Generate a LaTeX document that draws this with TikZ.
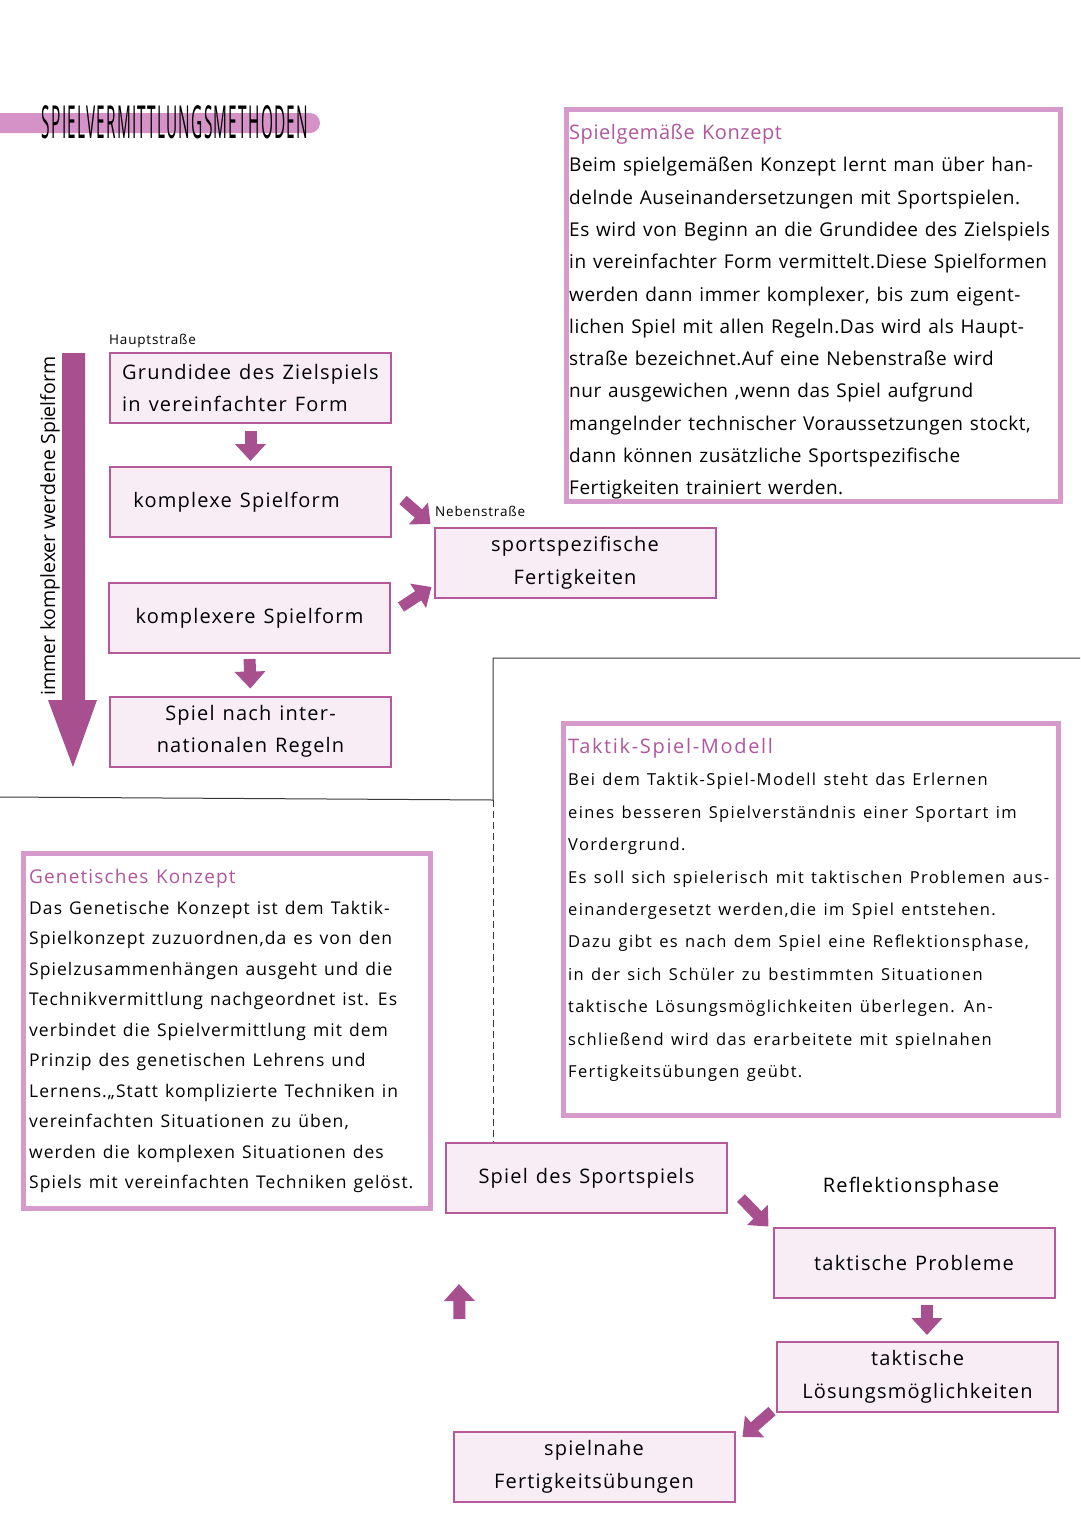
\documentclass[tikz,border=0pt]{standalone}
\usepackage{fontspec}
\usepackage{graphicx}
\setmainfont{Open Sans}[LetterSpace=6,WordSpace=1.25]
\newfontfamily\widefont{Open Sans}[LetterSpace=8.3,WordSpace=1.3]
\newfontfamily\spfont{Open Sans}[LetterSpace=2.8,WordSpace=1.25]
\newfontfamily\plainfont{Open Sans}
\newfontfamily\titlefont{Open Sans}[LetterSpace=8]
\usetikzlibrary{arrows.meta,calc}
\definecolor{flowfill}{HTML}{F8EDF5}
\definecolor{flowdraw}{HTML}{B45A9B}
\definecolor{arrowc}{HTML}{A8508F}
\definecolor{framec}{HTML}{D69BCB}
\definecolor{headc}{HTML}{B0579E}
\definecolor{barc}{HTML}{D592C7}
\definecolor{linec}{HTML}{3A3A3A}
\tikzset{
 flow/.style={draw=flowdraw, fill=flowfill, line width=2pt, minimum width=281pt, minimum height=70pt, align=center, font=\fontsize{20}{32.5}\selectfont, inner sep=0pt},
 blk/.style={draw=arrowc, line width=12pt, -{Triangle[length=17pt,width=30pt]}},
 diag/.style={draw=arrowc, line width=11pt, -{Triangle[length=16pt,width=28pt]}},
 panel/.style={draw=framec, line width=5pt, fill=white, anchor=north west, inner sep=0pt},
 paneltext/.style={anchor=north west, align=left, inner sep=0pt},
 smalllbl/.style={font=\fontsize{13.5}{15}\selectfont, anchor=base west, inner sep=0pt},
 sepline/.style={draw=linec, line width=1pt},
}
\begin{document}
\begin{tikzpicture}[x=1pt,y=-1pt]
\useasboundingbox (0,0) rectangle (1080,1527);
\fill[white] (0,0) rectangle (1080,1527);

% title
\fill[barc, rounded corners=10pt] (-20,113) rectangle (320,133);
\node[inner sep=0pt] (title) at (175,122) {\resizebox{266pt}{33pt}{\titlefont SPIELVERMITTLUNGSMETHODEN}};

% separator lines
\draw[sepline] (0,797) -- (493,800) -- (493,658) -- (1080,658);
\draw[sepline, dash pattern=on 7pt off 4pt] (493,800) -- (493,1142);

% big vertical arrow
\fill[arrowc] (62,353) -- (85,353) -- (85,700) -- (97,700) -- (73,767) -- (48,700) -- (62,700) -- cycle;
\node[rotate=90, font=\plainfont\fontsize{19.5}{20}\selectfont, inner sep=0pt] (rot) at (50,526) {immer komplexer werdene Spielform};

% main road
\node[smalllbl] (haupt) at (109,344) {Hauptstraße};
\node[flow, align=left] (b1) at (250.5,388) {Grundidee des Zielspiels\\in vereinfachter Form};
\node[flow] (b2) at (250.5,502) {\hspace*{-28pt}komplexe Spielform};
\node[flow] (b3) at (249.5,618) {komplexere Spielform};
\node[flow] (b4) at (250.5,731.5) {Spiel nach inter-\\nationalen Regeln};

\node[smalllbl] (neben) at (435,516) {Nebenstraße};
\node[flow] (b5) at (575,562.5) {sportspezifische\\Fertigkeiten};

\draw[blk, shorten <=7pt, shorten >=5pt] (b1.south) -- (b2.north);
\draw[blk, shorten <=5pt, shorten >=7pt] (b3.south) -- (b4.north);
\draw[diag] ($(b2.east)+(11,-2)$) -- ($(b5.west)+(-3,-38.5)$);
\draw[diag] ($(b3.east)+(10,-11)$) -- ($(b5.west)+(-2,24.5)$);

% Spielgemaesse Konzept
\node[panel, minimum width=494pt, minimum height=392pt] (p1) at (564,107) {};
\node[paneltext, font=\spfont\fontsize{19}{32.3}\selectfont] (p1t) at (569,124) {%
\textcolor{headc}{\fontsize{20}{32.3}\selectfont Spielgemäße Konzept}\\
Beim spielgemäßen Konzept lernt man über han-\\
delnde Auseinandersetzungen mit Sportspielen.\\
Es wird von Beginn an die Grundidee des Zielspiels\\
in vereinfachter Form vermittelt.Diese Spielformen\\
werden dann immer komplexer, bis zum eigent-\\
lichen Spiel mit allen Regeln.Das wird als Haupt-\\
straße bezeichnet.Auf eine Nebenstraße wird\\
nur ausgewichen ,wenn das Spiel aufgrund\\
mangelnder technischer Voraussetzungen stockt,\\
dann können zusätzliche Sportspezifische\\
Fertigkeiten trainiert werden.};

% Taktik-Spiel-Modell
\node[panel, minimum width=495pt, minimum height=392pt] (p2) at (561,721) {};
\node[paneltext, font=\widefont\fontsize{16.5}{32.4}\selectfont] (p2t) at (568,738) {%
\textcolor{headc}{\fontsize{20}{32.4}\selectfont Taktik-Spiel-Modell}\\
Bei dem Taktik-Spiel-Modell steht das Erlernen\\
eines besseren Spielverständnis einer Sportart im\\
Vordergrund.\\
Es soll sich spielerisch mit taktischen Problemen aus-\\
einandergesetzt werden,die im Spiel entstehen.\\
Dazu gibt es nach dem Spiel eine Reflektionsphase,\\
in der sich Schüler zu bestimmten Situationen\\
taktische Lösungsmöglichkeiten überlegen. An-\\
schließend wird das erarbeitete mit spielnahen\\
Fertigkeitsübungen geübt.};

% Genetisches Konzept
\node[panel, minimum width=407pt, minimum height=355pt] (p3) at (21,851) {};
\node[paneltext, font=\fontsize{17.5}{30.5}\selectfont] (p3t) at (29,869) {%
\textcolor{headc}{\fontsize{19}{30.5}\selectfont Genetisches Konzept}\\
Das Genetische Konzept ist dem Taktik-\\
Spielkonzept zuzuordnen,da es von den\\
Spielzusammenhängen ausgeht und die\\
Technikvermittlung nachgeordnet ist. Es\\
verbindet die Spielvermittlung mit dem\\
Prinzip des genetischen Lehrens und\\
Lernens.„Statt komplizierte Techniken in\\
vereinfachten Situationen zu üben,\\
werden die komplexen Situationen des\\
Spiels mit vereinfachten Techniken gelöst.};

% tactic cycle
\node[flow] (s1) at (586.5,1178) {Spiel des Sportspiels};
\node[font=\fontsize{20}{24}\selectfont, inner sep=0pt] (refl) at (911,1187) {Reflektionsphase};
\node[flow] (s2) at (914,1262.5) {taktische Probleme};
\node[flow] (s3) at (917.5,1377) {taktische\\Lösungsmöglichkeiten};
\node[flow] (s4) at (594,1467) {spielnahe\\Fertigkeitsübungen};

\draw[diag] ($(s1.east)+(13,20)$) -- ($(s2.north west)+(-4,0)$);
\draw[blk, shorten <=6pt, shorten >=6pt] ($(s2.south)+(13,0)$) -- ($(s3.north)+(9.5,0)$);
\draw[diag] ($(s3.south west)+(-4,-2)$) -- ($(s4.north east)+(7,6)$);
\draw[blk] ($(s4.north west)+(7,-112)$) -- ($(s1.south west)+(14,70)$);
\end{tikzpicture}
\end{document}
